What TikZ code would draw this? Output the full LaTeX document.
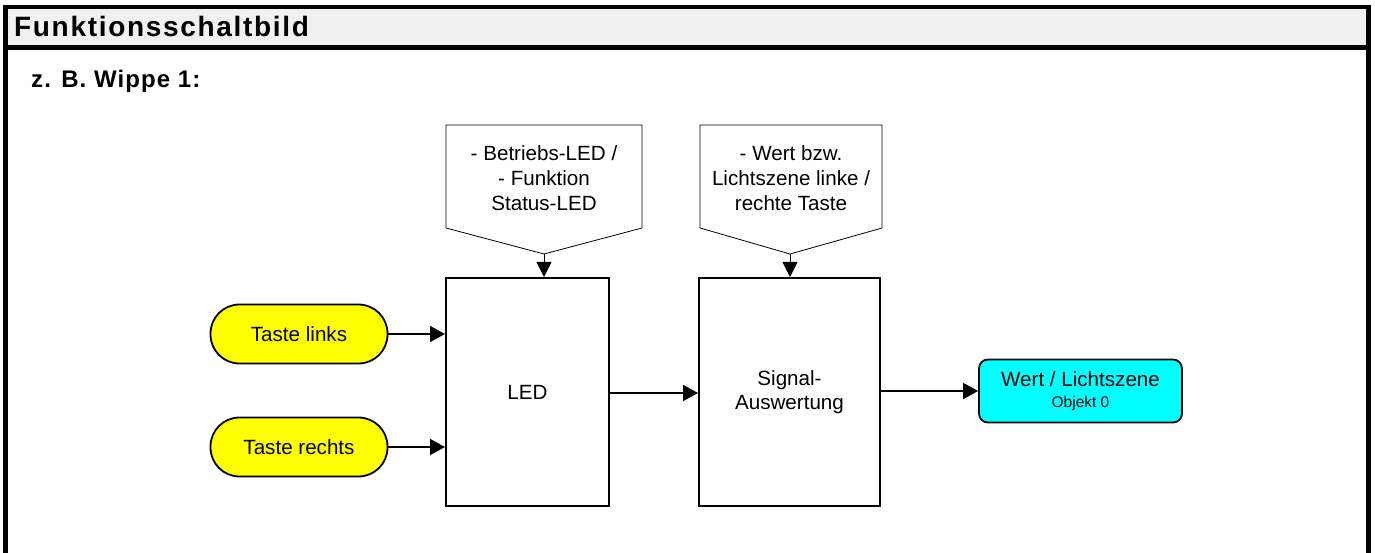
\documentclass[tikz,border=0pt]{standalone}
\usepackage{fontspec}
\setmainfont{Liberation Sans}
\newfontfamily\titlefont[LetterSpace=6.0]{Liberation Sans Bold}
\newfontfamily\subfont[LetterSpace=4.5]{Liberation Sans Bold}
\usetikzlibrary{arrows.meta}
\definecolor{hdrgray}{HTML}{F0F0F0}
\definecolor{tyellow}{HTML}{FFFF00}
\definecolor{tcyan}{HTML}{00FFFF}
\tikzset{
  txt/.style={font=\fontsize{20.6}{24}\selectfont, align=center, inner sep=0pt},
  taste/.style={draw, line width=1.8pt, fill=tyellow, minimum width=177pt, minimum height=59pt, rounded corners=29pt, txt},
  block/.style={draw, line width=2pt, fill=white, txt},
  outbox/.style={draw, line width=1.8pt, fill=tcyan, minimum width=203pt, minimum height=63pt, rounded corners=9pt, txt},
  penta/.style={draw, line width=0.8pt, fill=white},
  conn/.style={line width=1.8pt, -{Triangle[length=15pt,width=16pt]}},
  thinconn/.style={line width=0.8pt, -{Triangle[length=15pt,width=15pt]}},
  frame/.style={line width=4.5pt},
}
\begin{document}
\begin{tikzpicture}[x=1pt,y=-1pt]
\useasboundingbox (0,0) rectangle (1375,553);
\fill[white] (0,0) rectangle (1375,553);
% header
\fill[hdrgray] (5,7) rectangle (1368,47);
\draw[frame] (5.3,553) -- (5.3,7.2) -- (1368.5,7.2) -- (1368.5,553);
\draw[frame] (5.3,47.5) -- (1368.5,47.5);
\node[anchor=base west, inner sep=0pt, font=\fontsize{28}{32}\titlefont] (title) at (14,36.3) {Funktionsschaltbild};
\node[anchor=base west, inner sep=0pt, font=\fontsize{24}{28}\subfont] (sub) at (31,87.5) {z. B. Wippe 1:};

% callouts
\draw[penta] (446,125) -- (642,125) -- (642,228) -- (544,254) -- (446,228) -- cycle;
\coordinate (p1) at (544,254);
\node[txt, font=\fontsize{20.6}{25}\selectfont] (c1) at (544,178) {- Betriebs-LED /\\- Funktion\\Status-LED};
\draw[penta] (700,125) -- (882,125) -- (882,228) -- (790,254) -- (700,228) -- cycle;
\coordinate (p2) at (790,254);
\node[txt, font=\fontsize{20.6}{25}\selectfont] (c2) at (791,178) {- Wert bzw.\\Lichtszene linke /\\rechte Taste};

% blocks
\node[taste] (tl) at (299,334) {Taste links};
\node[taste] (tr) at (299,447) {Taste rechts};
\node[block, minimum width=163pt, minimum height=228pt] (led) at (527.5,392) {LED};
\node[block, minimum width=181pt, minimum height=228pt] (sig) at (789.5,392) {Signal-\\Auswertung};
\node[outbox] (wert) at (1080.5,391) {Wert / Lichtszene\\[-3pt]{\fontsize{15.5}{18}\selectfont Objekt 0}};

% connectors
\draw[thinconn] (p1) -- (p1 |- led.north);
\draw[thinconn] (p2) -- (p2 |- sig.north);
\draw[conn] (tl.east) -- (led.west |- tl.east);
\draw[conn] (tr.east) -- (led.west |- tr.east);
\draw[conn] (led.east |- 0,393) -- (sig.west |- 0,393);
\draw[conn] (sig.east |- wert.west) -- (wert.west);
\end{tikzpicture}
\end{document}
